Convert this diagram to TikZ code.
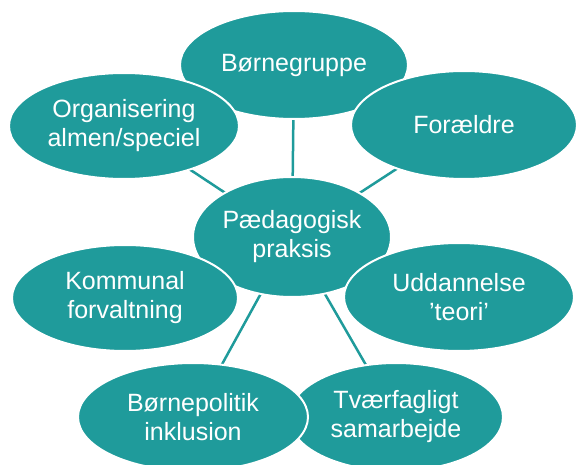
\documentclass[tikz,border=0pt]{standalone}
\usepackage{fontspec}
\setmainfont{Liberation Sans}
\usetikzlibrary{shapes.geometric}
\definecolor{teal1}{RGB}{31,155,155}
\begin{document}
\begin{tikzpicture}[x=1pt,y=-1pt,
  bubble/.style={ellipse,fill=teal1,draw=white,line width=2pt,inner sep=0pt,
    text=white,align=center,font=\fontsize{25}{29}\selectfont},
  link/.style={draw=teal1,line width=2.5pt}]
\useasboundingbox (0,0) rectangle (576,465);
\clip (0,0) rectangle (576,465);
\coordinate (cbg) at (294,65);
\coordinate (corg) at (124,126);
\coordinate (cfor) at (464,125);
\coordinate (cpp) at (292,237);
\coordinate (ckom) at (125,298);
\coordinate (cudd) at (459,297);
\coordinate (cbp) at (193,417);
\coordinate (ctv) at (396,417);
\draw[link] (cpp) -- (cbg);
\draw[link] (cpp) -- (corg);
\draw[link] (cpp) -- (cfor);
\draw[link] (cpp) -- (ckom);
\draw[link] (cpp) -- (cudd);
\draw[link] (cpp) -- (cbp);
\draw[link] (cpp) -- (ctv);
\node[bubble,minimum width=228pt,minimum height=108pt] (bg) at (cbg) {Børnegruppe};
\node[bubble,minimum width=230pt,minimum height=106pt] (org) at (corg) {Organisering\\almen/speciel};
\node[bubble,minimum width=226pt,minimum height=108pt] (for) at (cfor) {Forældre};
\node[bubble,minimum width=198pt,minimum height=120pt] (pp) at (cpp) {Pædagogisk\\praksis};
\node[bubble,minimum width=226pt,minimum height=106pt] (kom) at (ckom) {Kommunal\\forvaltning};
\node[bubble,minimum width=230pt,minimum height=108pt] (udd) at (cudd) {Uddannelse\\’teori’};
\node[bubble,minimum width=214pt,minimum height=108pt] (tv) at (ctv) {Tværfagligt\\samarbejde};
\node[bubble,minimum width=230pt,minimum height=108pt] (bp) at (cbp) {Børnepolitik\\inklusion};
\end{tikzpicture}
\end{document}
